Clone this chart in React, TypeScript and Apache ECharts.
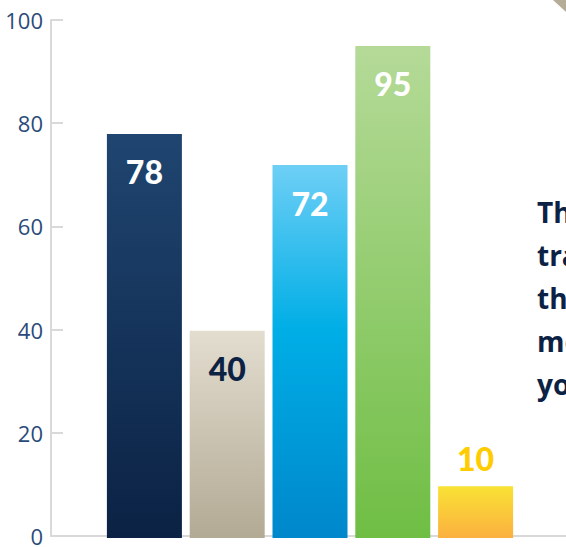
import React, { useEffect, useRef } from 'react';
import * as echarts from 'echarts';

const categories = ['A', 'B', 'C', 'D', 'E'];
const values = [78, 40, 72, 95, 10];
const sideText = ['The', 'tra', 'the', 'mo', 'you'];

const gradients: string[][] = [
  ['#1f4570', '#0b2244'],
  ['#e3ddd0', '#b2aa94'],
  ['#6ecff6', '#00aee6', '#0087cc'],
  ['#b5da98', '#6fbe44'],
  ['#f9e234', '#fbb040'],
];
const labelColors = ['#ffffff', '#0b2244', '#ffffff', '#ffffff', '#ffcc00'];

function grad(stops: string[]) {
  return new echarts.graphic.LinearGradient(
    0, 0, 0, 1,
    stops.map((c, i) => ({ offset: stops.length === 3 && i === 1 ? 0.44 : i / (stops.length - 1), color: c }))
  );
}

export default function App() {
  const ref = useRef<HTMLDivElement>(null);
  useEffect(() => {
    if (!ref.current) return;
    const chart = echarts.init(ref.current, null, { renderer: 'svg' });
    const axisGray = '#d9d9d9';
    chart.setOption({
      animation: false,
      backgroundColor: '#ffffff',
      grid: [
        { left: 103, right: 49, top: 20, bottom: 9 },
        { left: 51, right: 0, top: 20, bottom: 9 },
      ],
      xAxis: [
        {
          type: 'category', gridIndex: 0, data: categories,
          axisLine: { show: false }, axisTick: { show: false }, axisLabel: { show: false },
        },
        {
          type: 'category', gridIndex: 1, data: [''],
          axisLine: { show: true, lineStyle: { color: axisGray, width: 2 } },
          axisTick: { show: false }, axisLabel: { show: false },
        },
      ],
      yAxis: [
        {
          type: 'value', gridIndex: 0, min: 0, max: 100, interval: 20, show: false,
          splitLine: { show: false },
        },
        {
          type: 'value', gridIndex: 1, min: 0, max: 100, interval: 20,
          axisLine: { show: true, lineStyle: { color: axisGray, width: 2 } },
          axisTick: { show: true, inside: true, length: 12, lineStyle: { color: axisGray, width: 2 } },
          axisLabel: { color: '#2a4b7a', fontSize: 22, fontFamily: 'Open Sans', margin: 8 },
          splitLine: { show: false },
        },
      ],
      series: [
        {
          type: 'bar', xAxisIndex: 0, yAxisIndex: 0, barWidth: 75,
          data: values.map((v, i) => ({
            value: v,
            itemStyle: { color: grad(gradients[i]) },
            label: {
              show: true,
              position: i === 4 ? 'top' : 'insideTop',
              distance: i === 4 ? 12 : 22,
              color: labelColors[i],
              fontSize: 32,
              fontWeight: 900,
              fontFamily: 'Lato',
            },
          })),
        },
      ],
      graphic: [
        {
          type: 'text', left: 537, top: 190,
          style: {
            text: sideText.join('\n'),
            fill: '#0b2244', fontSize: 28, fontWeight: 'bold', fontFamily: 'Open Sans',
            lineHeight: 43,
          },
        },
        {
          type: 'polygon',
          shape: { points: [[553, 0], [566, 0], [566, 12]] },
          style: { fill: '#b5ad98' },
        },
      ],
    });
    return () => chart.dispose();
  }, []);
  return <div ref={ref} style={{ position: 'fixed', left: 0, top: 0, width: 566, height: 547 }} />;
}
